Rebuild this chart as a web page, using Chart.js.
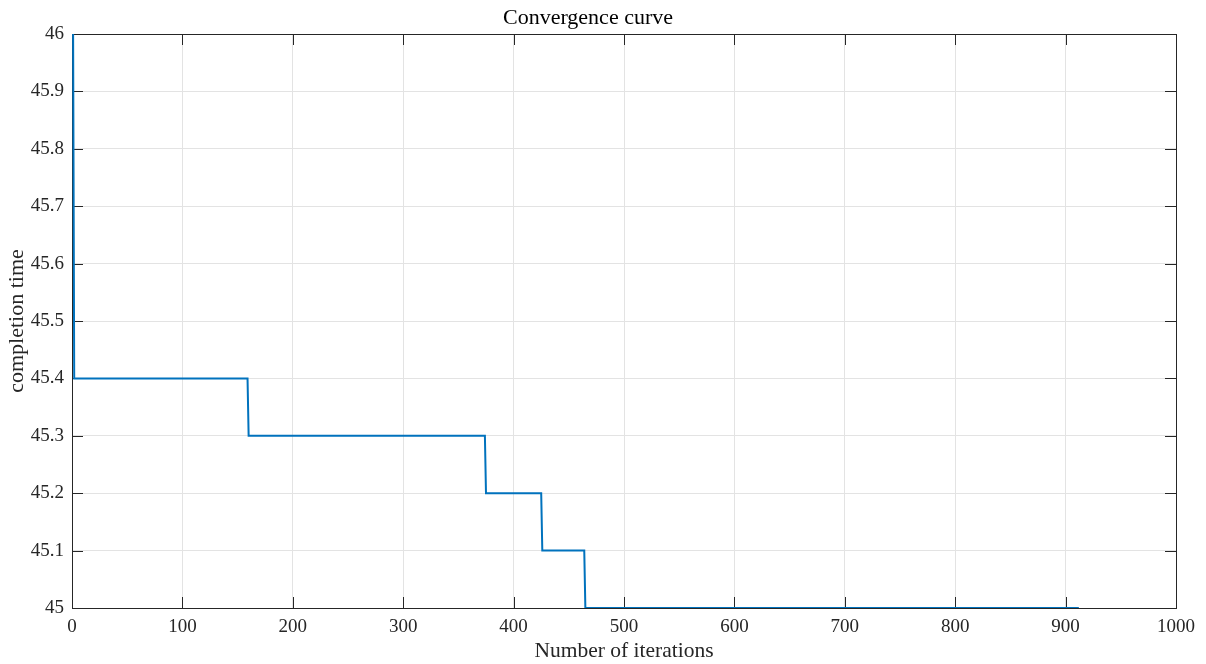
<!DOCTYPE html>
<html>
<head>
<meta charset="utf-8">
<script src="https://cdn.jsdelivr.net/npm/chart.js@4/dist/chart.umd.min.js"></script>
<style>
html,body{margin:0;padding:0;background:#fff;}
#wrap{width:1206px;height:664px;}
</style>
</head>
<body>
<div id="wrap"><canvas id="c" width="1206" height="664"></canvas></div>
<script>
// Data (iteration, completion time) at the step corners
const iterations = [1, 2, 159, 160, 374, 375, 425, 426, 464, 465, 912];
const completionTime = [46.0, 45.4, 45.4, 45.3, 45.3, 45.2, 45.2, 45.1, 45.1, 45.0, 45.0];
const xTicks = [0, 100, 200, 300, 400, 500, 600, 700, 800, 900, 1000];
const yTicks = [45, 45.1, 45.2, 45.3, 45.4, 45.5, 45.6, 45.7, 45.8, 45.9, 46];

const FONT = "'Liberation Serif', 'Times New Roman', serif";
const AXIS = '#262626';

const boxPlugin = {
  id: 'matlabBox',
  beforeDatasetsDraw(chart) {
    const {ctx, chartArea: a} = chart;
    ctx.save();
    ctx.strokeStyle = AXIS;
    ctx.lineWidth = 1;
    ctx.strokeRect(Math.round(a.left) + 0.5, Math.round(a.top) + 0.5,
                   Math.round(a.right) - Math.round(a.left), Math.round(a.bottom) - Math.round(a.top));
    const tl = 11;
    const xs = chart.scales.x, ys = chart.scales.y;
    ctx.beginPath();
    xs.ticks.forEach(t => {
      const px = Math.round(xs.getPixelForValue(t.value)) + 0.5;
      ctx.moveTo(px, a.bottom); ctx.lineTo(px, a.bottom - tl);
      ctx.moveTo(px, a.top); ctx.lineTo(px, a.top + tl);
    });
    ys.ticks.forEach(t => {
      const py = Math.round(ys.getPixelForValue(t.value)) + 0.5;
      ctx.moveTo(a.left, py); ctx.lineTo(a.left + tl, py);
      ctx.moveTo(a.right, py); ctx.lineTo(a.right - tl, py);
    });
    ctx.stroke();
    ctx.restore();
  }
};

new Chart(document.getElementById('c'), {
  type: 'line',
  data: {
    datasets: [{
      data: iterations.map((x, i) => ({x: x, y: completionTime[i]})),
      borderColor: '#0072BD',
      borderWidth: 2,
      pointRadius: 0,
      tension: 0,
      fill: false
    }]
  },
  options: {
    responsive: false,
    devicePixelRatio: 1,
    animation: false,
    layout: {padding: {left: 0, right: 30, top: 0, bottom: 0}},
    plugins: {
      legend: {display: false},
      tooltip: {enabled: false},
      title: {
        display: true,
        text: 'Convergence curve',
        color: '#000',
        font: {family: FONT, size: 22, weight: 'normal'},
        padding: {top: 5, bottom: 2.6}
      }
    },
    scales: {
      x: {
        type: 'linear',
        min: 0, max: 1000,
        afterBuildTicks(s) { s.ticks = xTicks.map(v => ({value: v})); },
        afterFit(s) { s.height = 56; },
        grid: {color: '#e3e3e3', drawTicks: false},
        border: {display: false},
        ticks: {
          color: AXIS, padding: 8, maxRotation: 0, autoSkip: false,
          font: {family: FONT, size: 19},
          callback: v => String(v)
        },
        title: {
          display: true, text: 'Number of iterations', color: AXIS,
          font: {family: FONT, size: 21.5, weight: 'normal'},
          padding: {top: 0, bottom: 0}
        }
      },
      y: {
        type: 'linear',
        min: 45, max: 46,
        afterBuildTicks(s) { s.ticks = yTicks.map(v => ({value: v})); },
        afterFit(s) { s.width = 72; },
        grid: {color: '#e3e3e3', drawTicks: false},
        border: {display: false},
        ticks: {
          color: AXIS, padding: 8, autoSkip: false,
          font: {family: FONT, size: 19},
          callback: v => String(Number(v.toFixed(1)))
        },
        title: {
          display: true, text: 'completion time', color: AXIS,
          font: {family: FONT, size: 22, weight: 'normal'},
          padding: {top: 4, bottom: 0}
        }
      }
    }
  },
  plugins: [boxPlugin]
});
</script>
</body>
</html>
